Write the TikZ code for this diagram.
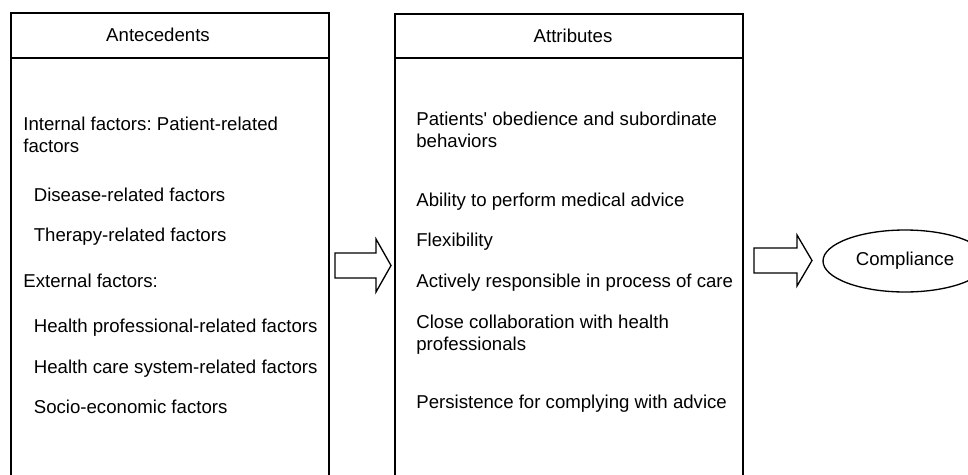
\documentclass[tikz,border=0pt]{standalone}
\usepackage{fontspec}
\setmainfont{Liberation Sans}
\usepackage{tikz}
\usetikzlibrary{positioning,shapes}
\frenchspacing

\begin{document}
\begin{tikzpicture}[x=0.02cm,y=-0.02cm]
  \tikzstyle{frame} = [draw, line width=0.75pt]
  \tikzstyle{item} = [anchor=base west, inner sep=0pt, align=left,
  font=\fontsize{10.6}{12}\selectfont]
  \tikzstyle{head} = [anchor=base, inner sep=0pt,
  font=\fontsize{10.6}{12}\selectfont]
  \useasboundingbox (0,0) rectangle (968,474);
  % boxes
  \draw[frame] (11,13) rectangle (329,495); \draw[frame] (11,58) -- (329,58);
  \draw[frame] (395,14) rectangle (743,495); \draw[frame] (395,58) -- (743,58);
  \node[head] (ante) at (158,41) {Antecedents};
  \node[head] (attr) at (573,42) {Attributes};
  % antecedents
  \node[item] (internal) at (23,152) {Internal factors: Patient-related\\factors};
  \node[item] (disease) at (33.5,201) {Disease-related factors};
  \node[item] (therapy) at (33.5,241) {Therapy-related factors};
  \node[item] (external) at (23,287) {External factors:};
  \node[item] (profess) at (33.5,332) {Health professional-related factors};
  \node[item] (system) at (33.5,373) {Health care system-related factors};
  \node[item] (socio) at (33.5,413) {Socio-economic factors};
  % attributes
  \node[item] (obey) at (416,147) {Patients\textquotesingle{} obedience and subordinate\\behaviors};
  \node[item] (ability) at (416,206) {Ability to perform medical advice};
  \node[item] (flex) at (416,246) {Flexibility};
  \node[item] (active) at (416,287) {Actively responsible in process of care};
  \node[item] (collab) at (416,350) {Close collaboration with health\\professionals};
  \node[item] (persist) at (416,408) {Persistence for complying with advice};
  % result
  \node[ellipse, draw, line width=0.75pt, minimum width=3.28cm, minimum height=1.24cm,
  font=\fontsize{10.6}{12}\selectfont] (comply) at (905,261) {Compliance};
  % block arrows
  \draw[frame, line join=miter] (335,253) -- (376,253) -- (376,239) -- (391,265.5)
  -- (376,292) -- (376,278) -- (335,278) -- cycle;
  \draw[frame, line join=miter] (754,248) -- (797,248) -- (797,235) -- (812,260.5)
  -- (797,286) -- (797,273) -- (754,273) -- cycle;
\end{tikzpicture}
\end{document}
